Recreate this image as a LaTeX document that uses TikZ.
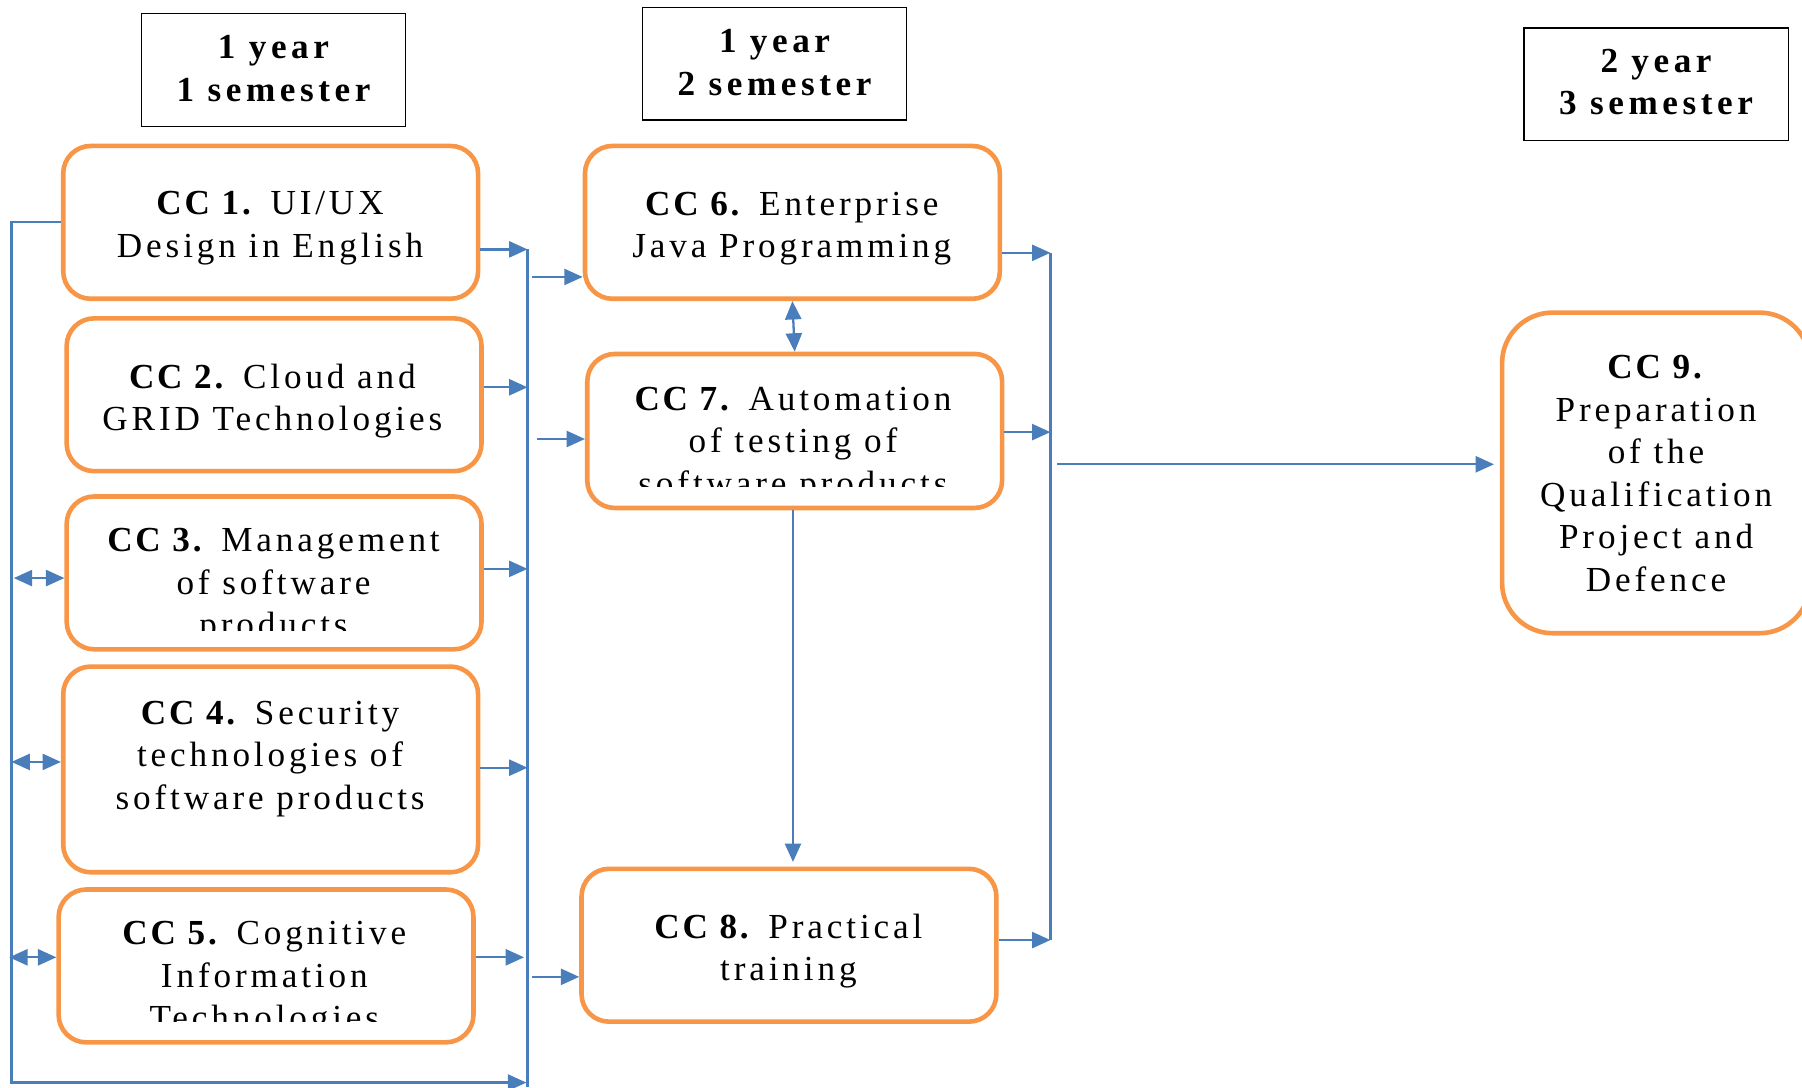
\documentclass[tikz,border=0pt]{standalone}
\usepackage{fontspec}
\setmainfont{Liberation Serif}[LetterSpace=11,BoldFeatures={LetterSpace=8}]
\newfontfamily\hdrfont{Liberation Serif}[LetterSpace=13]
\usetikzlibrary{arrows.meta}
\definecolor{orng}{HTML}{F79646}
\definecolor{blu}{HTML}{4A7EBB}
\tikzset{
  ccbox/.style={draw=orng, line width=2pt, rounded corners=12pt, minimum width=180.5pt, minimum height=66.5pt, inner sep=0pt, fill=white},
  hdr/.style={draw=black, line width=0.6pt, minimum width=115pt, minimum height=49pt, inner sep=0pt},
  txt/.style={align=center, font=\fontsize{15.3}{18.5}\selectfont, inner sep=0pt},
  htxt/.style={align=center, font=\fontsize{15.3}{18.5}\selectfont\hdrfont\bfseries, inner sep=0pt},
  conn/.style={draw=blu, line width=1pt},
  arr/.style={conn, -{Triangle[length=8pt,width=7pt]}},
  darr/.style={conn, {Triangle[length=8pt,width=7pt]}-{Triangle[length=8pt,width=7pt]}}
}
\begin{document}
\begin{tikzpicture}[x=0.5pt,y=-0.5pt]
\useasboundingbox (0,0) rectangle (1568,946);
% headers
\node[hdr] (h1) at (238,61) {};
\node[htxt] (h1t) at (238,59.5) {1 year\\1 semester};
\node[hdr] (h2) at (674,55.5) {};
\node[htxt] (h2t) at (674,54.5) {1 year\\2 semester};
\node[hdr] (h3) at (1441,73.5) {};
\node[htxt] (h3t) at (1441,71.5) {2 year\\3 semester};
% boxes
\node[ccbox] (cc1) at (235.5,193.5) {};
\node[ccbox] (cc2) at (238.5,343.5) {};
\node[ccbox] (cc3) at (238.5,498.5) {};
\node[ccbox, minimum height=89.5pt] (cc4) at (235.5,669.5) {};
\node[ccbox] (cc5) at (231.5,840.5) {};
\node[ccbox] (cc6) at (689.5,193.5) {};
\node[ccbox, minimum height=67pt] (cc7) at (691.5,375) {};
\node[ccbox] (cc8) at (686.5,822.5) {};
\node[ccbox, minimum width=134pt, minimum height=139.5pt, rounded corners=22pt] (cc9) at (1441,411.5) {};
% texts
\node[txt] (cc1t) at (235,198.5) {\textbf{CC 1.} UI/UX\\Design in English};
\node[txt] (cc2t) at (237,349) {\textbf{CC 2.} Cloud and\\GRID Technologies};
\begin{scope}
\clip (0,0) rectangle (1568,549);
\node[txt] (cc3t) at (238,510) {\textbf{CC 3.} Management\\of software\\products};
\end{scope}
\node[txt] (cc4t) at (235,660.5) {\textbf{CC 4.} Security\\technologies of\\software products};
\begin{scope}
\clip (0,0) rectangle (1568,889);
\node[txt] (cc5t) at (230,852) {\textbf{CC 5.} Cognitive\\Information\\Technologies};
\end{scope}
\node[txt] (cc6t) at (689,199) {\textbf{CC 6.} Enterprise\\Java Programming};
\begin{scope}
\clip (0,0) rectangle (1568,423);
\node[txt] (cc7t) at (690,387) {\textbf{CC 7.} Automation\\of testing of\\software products};
\end{scope}
\node[txt] (cc8t) at (686,827.5) {\textbf{CC 8.} Practical\\training};
\node[txt] (cc9t) at (1441,412) {\textbf{CC 9.}\\Preparation\\of the\\Qualification\\Project and\\Defence};
% bus coordinates
\coordinate (Lt) at (10,193);
\coordinate (Lb) at (10,942);
\coordinate (Lend) at (458,942);
\coordinate (L3) at (12,503);
\coordinate (L4) at (10,663);
\coordinate (L5) at (8,833);
\coordinate (Rt) at (459,217);
\coordinate (Rb) at (459,946);
\coordinate (R2) at (459,337);
\coordinate (R3) at (459,495);
\coordinate (R4) at (459,668);
\coordinate (R5) at (456,833);
\coordinate (S6) at (463,241);
\coordinate (S7) at (467,382);
\coordinate (S8) at (463,850);
\coordinate (Tt) at (914,220);
\coordinate (T7) at (914,376);
\coordinate (Tb) at (914,818);
\coordinate (U) at (920,404);
% left bus
\draw[arr] (cc1.west |- Lt) -- (Lt) -- (Lb) -- (Lend);
\draw[darr] (L3) -- (cc3.west |- L3);
\draw[darr] (L4) -- (cc4.west |- L4);
\draw[darr] (L5) -- (cc5.west |- L5);
% right bus column 1
\draw[conn] (Rt) -- (Rb);
\draw[arr] (cc1.east |- Rt) -- (Rt);
\draw[arr] (cc2.east |- R2) -- (R2);
\draw[arr] (cc3.east |- R3) -- (R3);
\draw[arr] (cc4.east |- R4) -- (R4);
\draw[arr] (cc5.east |- R5) -- (R5);
% into column 2
\draw[arr] (S6) -- (cc6.west |- S6);
\draw[arr] (S7) -- (cc7.west |- S7);
\draw[arr] (S8) -- (cc8.west |- S8);
% column 2 internal
\draw[darr] (cc6.south) -- (cc7.north);
\draw[arr, shorten >=2pt] (cc7.south -| 690,0) -- (cc8.north -| 690,0);
% right bus column 2
\draw[conn] (Tt) -- (Tb);
\draw[arr] (cc6.east |- Tt) -- (Tt);
\draw[arr] (cc7.east |- T7) -- (T7);
\draw[arr] (cc8.east |- Tb) -- (Tb);
\draw[arr, shorten >=2.5pt] (U) -- (cc9.west |- U);
\end{tikzpicture}
\end{document}
